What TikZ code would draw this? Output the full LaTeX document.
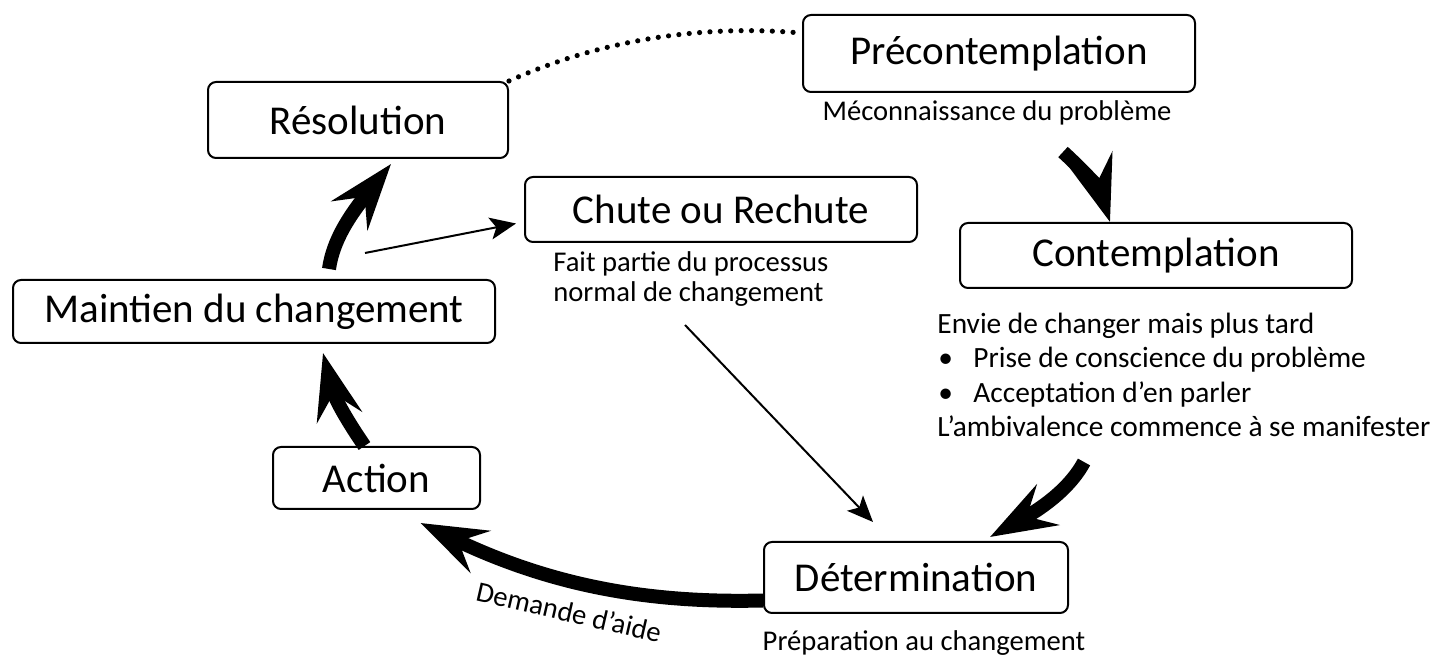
\documentclass[tikz,border=0pt]{standalone}
\usepackage{fontspec}
\setmainfont{Carlito}
\usetikzlibrary{arrows.meta}

\begin{document}
\begin{tikzpicture}[x=0.5pt, y=-0.5pt,
		stage/.style={draw, line width=1pt, rounded corners=4pt, inner sep=0pt, font=\fontsize{20.5}{24}\selectfont},
		note/.style={inner sep=0pt, font=\fontsize{14.3}{15}\selectfont},
		turn/.style={line width=7pt, -{Stealth[length=33pt, width=23pt, inset=12pt]}},
		link/.style={line width=1pt, -{Stealth[length=13pt, width=11pt, inset=3pt]}},
		dots/.style={line width=2.6pt, line cap=round, dash pattern=on 0pt off 5.2pt}]
	
		\useasboundingbox (0,0) rectangle (1436,657);
		
		\node (pre) at (999,53.5)[stage, minimum width=196pt, minimum height=38.5pt] {Précontemplation};
		\node (cont) at (1156,255.5)[stage, minimum width=196pt, minimum height=32.5pt] {Contemplation};
		\node (det) at (916,577.5)[stage, minimum width=152pt, minimum height=35.5pt] {Détermination};
		\node (act) at (376.5,478)[stage, minimum width=103.5pt, minimum height=31pt] {Action};
		\node (maint) at (254,311.5)[stage, minimum width=241pt, minimum height=31.5pt] {Maintien du changement};
		\node (res) at (358,120)[stage, minimum width=150pt, minimum height=38pt] {Résolution};
		\node (chute) at (721,209.5)[stage, minimum width=196pt, minimum height=32.5pt] {Chute ou Rechute};
		
		\node (meco) at (997,121)[note, anchor=base] {Méconnaissance du problème};
		\node (fait) at (553,301.5)[note, anchor=base west, align=left] {Fait partie du processus\\normal de changement};
		\node (envie) at (937,437)[note, anchor=base west, align=left, font=\fontsize{14.7}{17.3}\selectfont] {Envie de changer mais plus tard\\
			\makebox[18pt][l]{\hspace{0.5pt}\textbullet}Prise de conscience du problème\\
			\makebox[18pt][l]{\hspace{0.5pt}\textbullet}Acceptation d’en parler\\
			L’ambivalence commence à se manifester};
		\node (prep) at (924,650)[note, anchor=base] {Préparation au changement};
		\node (aide) at (569,612)[note, rotate=-13] {Demande d’aide};
		
		\coordinate (c1) at (1063,152);
		\coordinate (c2) at (1084,462);
		\coordinate (c3) at (365,253);
		\coordinate (c4) at (685,325);
		
		\draw[turn] (c1) .. controls (1085,172) and (1100,190) .. ([xshift=-23pt]cont.north);
		\draw[turn] (c2) .. controls (1068,492) and (1035,512) .. ([xshift=37pt,yshift=2pt]det.north);
		\draw[turn] ([yshift=-11.5pt]det.west) .. controls (660,603) and (560,590) .. ([xshift=22pt,yshift=-6.5pt]act.south);
		\draw[turn] ([xshift=-6pt]act.north) .. controls (350,425) and (335,400) .. ([xshift=34.5pt,yshift=-4.5pt]maint.south);
		\draw[turn] ([xshift=37.5pt,yshift=5pt]maint.north) .. controls (333,240) and (350,215) .. ([xshift=16.5pt,yshift=-2.5pt]res.south);
		
		\draw[link] (c3) -- ([xshift=-4pt,yshift=-7pt]chute.west);
		\draw[link] (c4) -- ([xshift=-21.5pt,yshift=9.5pt]det.north);
		
		\draw[dots] (res.north east) .. controls (600,40) and (700,25) .. ([xshift=-3.5pt,yshift=10.5pt]pre.west);
	\end{tikzpicture}
\end{document}
